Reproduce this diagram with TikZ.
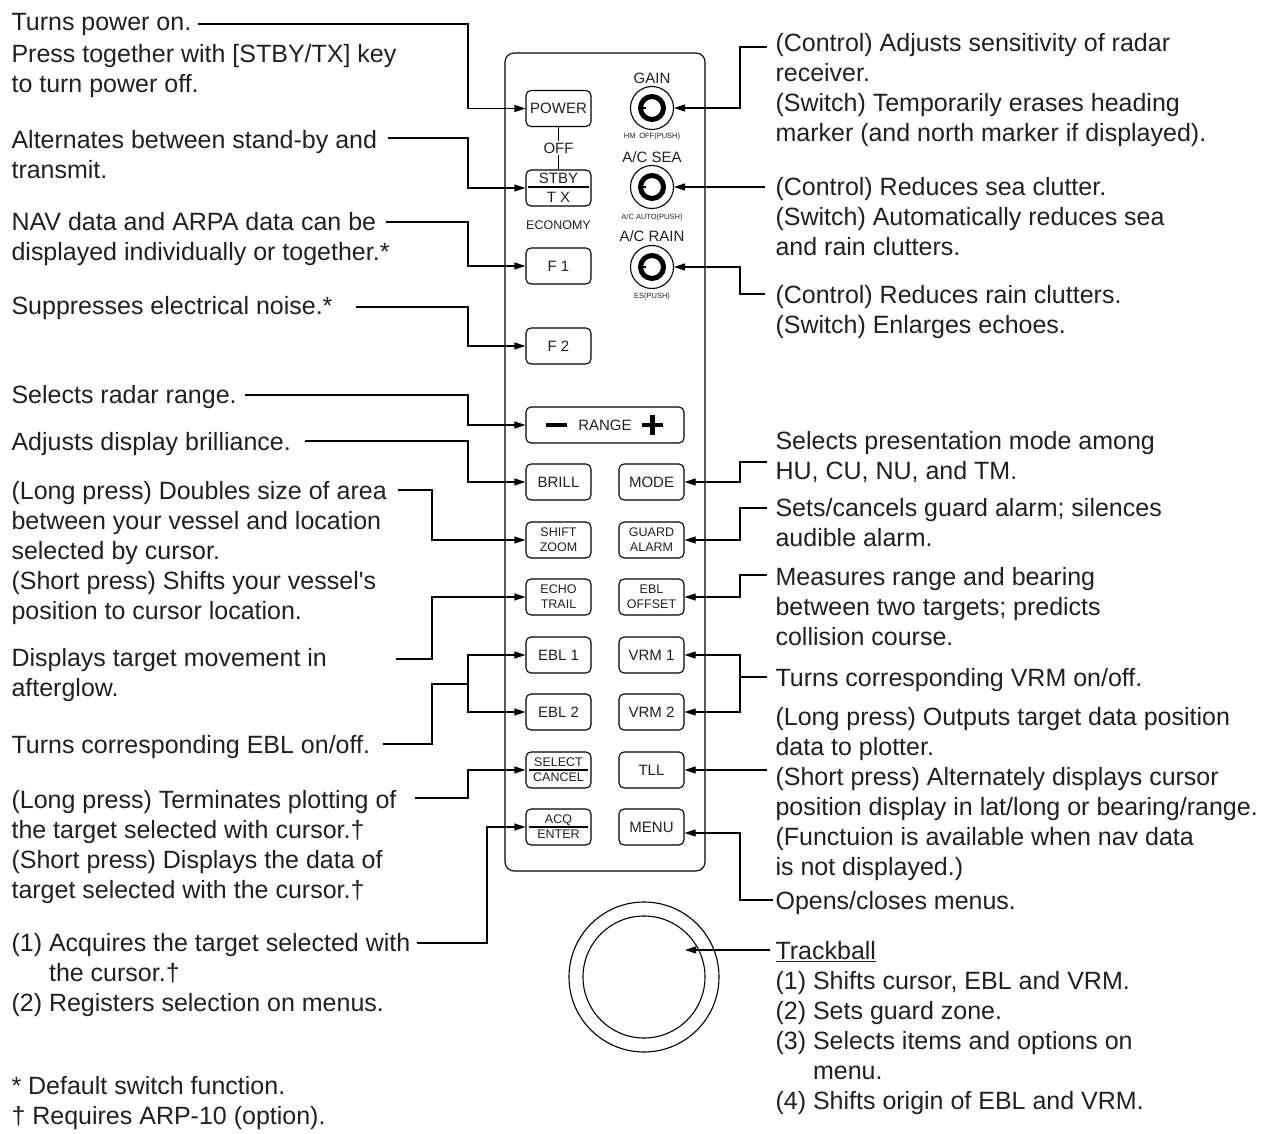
\documentclass[tikz,border=0pt]{standalone}
\usepackage{fontspec}
\setmainfont{Liberation Sans}
\usetikzlibrary{arrows.meta}

\definecolor{inkgray}{RGB}{35,31,32}
\newcommand{\descfont}{\fontsize{25}{30}\selectfont}
\newcommand{\keyfont}{\fontsize{15}{19}\selectfont}
\newcommand{\keysmallfont}{\fontsize{12.5}{15}\selectfont}
\newcommand{\pushfont}{\fontsize{7.5}{9}\selectfont}

\tikzset{
  desc/.style={anchor=north west, align=left, inner sep=0pt, font=\descfont, text=inkgray},
  panelkey/.style={draw, rounded corners=5pt, minimum width=65pt, minimum height=36pt,
    inner sep=0pt, font=\keyfont, align=center, text=inkgray},
  twokey/.style={panelkey, font=\keysmallfont},
  knob/.style={circle, draw, minimum size=43pt, inner sep=0pt},
  lbl/.style={font=\keyfont, inner sep=1.5pt, text=inkgray},
  pushlbl/.style={font=\pushfont, inner sep=0pt, text=inkgray},
  callout/.style={-{Triangle[length=11pt,width=7pt]}}
}

\begin{document}
\begin{tikzpicture}[x=1pt, y=-1pt, line width=1.1pt]
    \useasboundingbox (0,0) rectangle (1270,1134);

    % Panel
    \draw[rounded corners=9pt] (505,53) rectangle (705,871);

    % Left column of keys
    \node[panelkey] (power) at (558.5,108.5) {POWER};
    \node[lbl] (off) at (558.5,148) {OFF};
    \node[panelkey] (stby) at (558.5,188) {STBY\\T X};
    \node[lbl, font=\keysmallfont] (economy) at (558.5,225) {ECONOMY};
    \node[panelkey] (f1) at (558.5,266) {F 1};
    \node[panelkey] (f2) at (558.5,346) {F 2};
    \node[panelkey, minimum width=158pt] (range) at (605,425) {RANGE};
    \node[panelkey] (brill) at (558.5,482) {BRILL};
    \node[twokey] (shift) at (558.5,540) {SHIFT\\ZOOM};
    \node[twokey] (echo) at (558.5,597) {ECHO\\TRAIL};
    \node[panelkey] (ebl1) at (558.5,655) {EBL 1};
    \node[panelkey] (ebl2) at (558.5,712) {EBL 2};
    \node[twokey] (select) at (558.5,770) {SELECT\\CANCEL};
    \node[twokey] (acq) at (558.5,827) {ACQ\\ENTER};

    \draw (power) -- (off);
    \draw (off) -- (stby);
    \draw ([xshift=3pt,yshift=1pt]stby.west) -- ([xshift=-3pt,yshift=1pt]stby.east);
    \draw ([xshift=4pt]select.west) -- ([xshift=-4pt]select.east);
    \draw ([xshift=4pt]acq.west) -- ([xshift=-4pt]acq.east);
    \draw[line width=4.5pt] ([xshift=21pt]range.west) -- ([xshift=42pt]range.west);
    \draw[line width=4.5pt] ([xshift=-32pt]range.east) ++(-10.5,0) -- ++(21,0);
    \draw[line width=4.5pt] ([xshift=-32pt]range.east) ++(0,-10) -- ++(0,20);

    % Knobs
    \node[lbl] (gainlbl) at (652,78) {GAIN};
    \node[knob] (gain) at (652,108) {};
    \node[pushlbl] (gainpush) at (652,137) {HM\enspace OFF(PUSH)};
    \node[lbl] (sealbl) at (652,157) {A/C SEA};
    \node[knob] (sea) at (652,187) {};
    \node[pushlbl] (seapush) at (652,218) {A/C AUTO(PUSH)};
    \node[lbl] (rainlbl) at (652,236) {A/C RAIN};
    \node[knob] (rain) at (652,267) {};
    \node[pushlbl] (rainpush) at (652,297) {ES(PUSH)};

    \foreach \k in {gain,sea,rain} {
      \draw[line width=5pt] (\k.center) circle[radius=11.5pt];
      \draw[line width=2.5pt] ([xshift=-9.5pt]\k.center) -- ([xshift=-6pt]\k.center);
    }

    % Right column of keys
    \node[panelkey] (mode) at (651.5,482) {MODE};
    \node[twokey] (guard) at (651.5,540) {GUARD\\ALARM};
    \node[twokey] (ebloff) at (651.5,597) {EBL\\OFFSET};
    \node[panelkey] (vrm1) at (651.5,655) {VRM 1};
    \node[panelkey] (vrm2) at (651.5,712) {VRM 2};
    \node[panelkey] (tll) at (651.5,770) {TLL};
    \node[panelkey] (menu) at (651.5,827) {MENU};

    % Trackball
    \node[circle, draw, minimum size=150pt, inner sep=0pt] (trackball) at (644,977) {};
    \draw (trackball.center) circle[radius=61pt];

    %-------------
    % Left descriptions
    \node[desc] (tpower) at (11,13) {Turns power on.\\[2pt]Press together with [STBY/TX] key\\to turn power off.};
    \node[desc] (tstby) at (11,130) {Alternates between stand-by and\\transmit.};
    \node[desc] (tf1) at (11,212) {NAV data and ARPA data can be\\displayed individually or together.*};
    \node[desc] (tf2) at (11,296) {Suppresses electrical noise.*};
    \node[desc] (trange) at (11,385) {Selects radar range.};
    \node[desc] (tbrill) at (11,432) {Adjusts display brilliance.};
    \node[desc] (tshift) at (11,481) {(Long press) Doubles size of area\\between your vessel and location\\selected by cursor.\\(Short press) Shifts your vessel\textquotesingle s\\position to cursor location.};
    \node[desc] (techo) at (11,648) {Displays target movement in\\afterglow.};
    \node[desc] (tebl) at (11,735) {Turns corresponding EBL on/off.};
    \node[desc] (tselect) at (11,790) {(Long press) Terminates plotting of\\the target selected with cursor.†\\(Short press) Displays the data of\\target selected with the cursor.†};
    \node[desc] (tacq) at (11,933) {(1) Acquires the target selected with\\\phantom{(1) }the cursor.†\\(2) Registers selection on menus.};
    \node[desc] (tnotes) at (11,1076) {* Default switch function.\\† Requires ARP-10 (option).};

    % Right descriptions
    \node[desc] (tgain) at (775,33) {(Control) Adjusts sensitivity of radar\\receiver.\\(Switch) Temporarily erases heading\\marker (and north marker if displayed).};
    \node[desc] (tsea) at (775,177) {(Control) Reduces sea clutter.\\(Switch) Automatically reduces sea\\and rain clutters.};
    \node[desc] (train) at (775,285) {(Control) Reduces rain clutters.\\(Switch) Enlarges echoes.};
    \node[desc] (tmode) at (775,431) {Selects presentation mode among\\HU, CU, NU, and TM.};
    \node[desc] (tguard) at (775,498) {Sets/cancels guard alarm; silences\\audible alarm.};
    \node[desc] (tebloff) at (775,567) {Measures range and bearing\\between two targets; predicts\\collision course.};
    \node[desc] (tvrm) at (775,668) {Turns corresponding VRM on/off.};
    \node[desc] (ttll) at (775,707) {(Long press) Outputs target data position\\data to plotter.\\(Short press) Alternately displays cursor\\position display in lat/long or bearing/range.\\(Functuion is available when nav data\\is not displayed.)};
    \node[desc] (tmenu) at (775,891) {Opens/closes menus.};
    \node[desc] (ttrack) at (775,941) {\underline{Trackball}\\(1) Shifts cursor, EBL and VRM.\\(2) Sets guard zone.\\(3) Selects items and options on\\\phantom{(3) }menu.\\(4) Shifts origin of EBL and VRM.};

    %-------------
    % Connectors, left side
    \coordinate (lbend) at (468,0);
    \coordinate (lbendin) at (432,0);
    \coordinate (lbendacq) at (487,0);
    \coordinate (ebljoin) at (468,684);

    \coordinate (c1) at (198,24);
    \coordinate (c2) at (388,138);
    \coordinate (c3) at (386,222);
    \coordinate (c4) at (356,307);
    \coordinate (c5) at (245,395);
    \coordinate (c6) at (305,441);
    \coordinate (c7) at (398,490);
    \coordinate (c8) at (396,659);
    \coordinate (c9) at (383,744);
    \coordinate (c10) at (415,798);
    \coordinate (c11) at (417,943);

    \draw[callout] (c1) -| (power.west -| lbend) -- (power.west);
    \draw[callout] (c2) -| (stby.west -| lbend) -- (stby.west);
    \draw[callout] (c3) -| (f1.west -| lbend) -- (f1.west);
    \draw[callout] (c4) -| (f2.west -| lbend) -- (f2.west);
    \draw[callout] (c5) -| (range.west -| lbend) -- (range.west);
    \draw[callout] (c6) -| (brill.west -| lbend) -- (brill.west);
    \draw[callout] (c7) -| (shift.west -| lbendin) -- (shift.west);
    \draw[callout] (c8) -| (echo.west -| lbendin) -- (echo.west);
    \draw (c9) -| (ebljoin -| lbendin) -- (ebljoin);
    \draw[callout] (ebljoin) |- (ebl1.west);
    \draw[callout] (ebljoin) |- (ebl2.west);
    \draw[callout] (c10) -| (select.west -| lbend) -- (select.west);
    \draw[callout] (c11) -| (acq.west -| lbendacq) -- (acq.west);

    % Connectors, right side
    \coordinate (rbend) at (740,0);
    \coordinate (vrmjoin) at (740,677);
    \coordinate (tbpoint) at (685,950);

    \coordinate (r1) at (767,47);
    \coordinate (r2) at (765,187);
    \coordinate (r3) at (765,294);
    \coordinate (r4) at (767,462);
    \coordinate (r5) at (767,508);
    \coordinate (r6) at (767,575);
    \coordinate (r7) at (767,677);
    \coordinate (r8) at (767,770);
    \coordinate (r9) at (773,900);
    \coordinate (r10) at (770,950);

    \draw[callout] (r1) -| (gain.east -| rbend) -- (gain.east);
    \draw[callout] (r2) -- (sea.east);
    \draw[callout] (r3) -| (rain.east -| rbend) -- (rain.east);
    \draw[callout] (r4) -| (mode.east -| rbend) -- (mode.east);
    \draw[callout] (r5) -| (guard.east -| rbend) -- (guard.east);
    \draw[callout] (r6) -| (ebloff.east -| rbend) -- (ebloff.east);
    \draw (r7) -- (vrmjoin);
    \draw[callout] (vrmjoin) |- (vrm1.east);
    \draw[callout] (vrmjoin) |- (vrm2.east);
    \draw[callout] (r8) -- (tll.east);
    \draw[callout] (r9) -| ([yshift=-6pt]menu.east -| rbend) -- ([yshift=-6pt]menu.east);
    \draw[callout] (r10) -- (tbpoint);

\end{tikzpicture}
\end{document}
